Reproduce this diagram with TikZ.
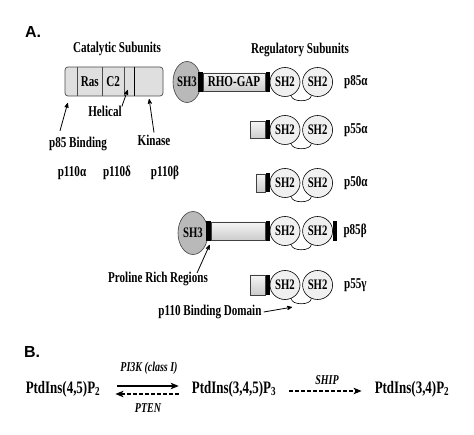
\documentclass[tikz,border=0pt]{standalone}
\usepackage{fontspec}
\setmainfont{Liberation Serif}[FakeStretch=0.74]
\newfontfamily\panelfont{Liberation Sans}
\usepackage{tikz}
\usetikzlibrary{arrows,arrows.meta,positioning,shapes.geometric}

\begin{document}
\begin{tikzpicture}[x=1pt,y=-1pt,>=stealth',
    lbl/.style={font=\bfseries\fontsize{15}{16}\selectfont,inner sep=1pt},
    enz/.style={font=\bfseries\itshape\fontsize{13.5}{14}\selectfont,inner sep=1pt},
    lipid/.style={font=\bfseries\fontsize{17.5}{18}\selectfont,inner sep=1pt},
    panel/.style={font=\panelfont\bfseries\fontsize{16}{17}\selectfont,inner sep=0pt},
    catalytic/.style={draw=gray!60!black,fill=gray!25,rounded corners=3pt,line width=0.7pt,
      minimum width=98pt,minimum height=29pt,inner sep=0pt},
    seg/.style={font=\bfseries\fontsize{15}{16}\selectfont,minimum height=29pt,inner sep=0pt},
    shtwo/.style={ellipse,draw=black,fill=gray!12,line width=0.6pt,minimum width=30pt,
      minimum height=29pt,inner sep=0pt,font=\bfseries\fontsize{14.5}{15}\selectfont},
    shthree/.style={ellipse,draw=gray!50!black,fill=gray!55,line width=0.6pt,inner sep=0pt,
      font=\bfseries\fontsize{14.5}{15}\selectfont},
    linker/.style={rectangle,draw=gray!50!black,top color=gray!8,bottom color=gray!40,
      line width=0.5pt,inner sep=0pt,font=\bfseries\fontsize{15}{16}\selectfont},
    blackbar/.style={rectangle,fill=black,minimum width=4.5pt,minimum height=20pt,inner sep=0pt},
    loop/.style={line width=0.6pt},
    pointer/.style={->,line width=0.8pt,shorten >=1pt},
    react/.style={-{Stealth[length=8pt,width=6.5pt,inset=2pt]},line width=1.1pt},
    back/.style={-{Stealth[length=8pt,width=6.5pt,inset=2pt]},line width=1.1pt,
      dash pattern=on 3.5pt off 2.5pt}]

    \useasboundingbox[fill=white] (0,0) rectangle (474,435);

    % panel A, catalytic subunits
    \node[panel] (pa) at (33,32) {A.};
    \node[lbl] (cathead) at (117,49) {Catalytic Subunits};
    \node[catalytic] (cat) at (114,81.5) {};
    \node[seg,minimum width=12pt,anchor=west] (pbd) at (cat.west) {};
    \node[seg,minimum width=25pt,right=0pt of pbd] (ras) {Ras};
    \node[seg,minimum width=21pt,right=0pt of ras] (ctwo) {C2};
    \node[seg,minimum width=10pt,right=0pt of ctwo] (hel) {};
    \node[seg,minimum width=30pt,right=0pt of hel] (kin) {};
    \draw[gray!60!black,line width=0.7pt] (pbd.north east) -- (pbd.south east);
    \draw[gray!60!black,line width=0.7pt] (ras.north east) -- (ras.south east);
    \draw[gray!60!black,line width=0.7pt] (ctwo.north east) -- (ctwo.south east);
    \draw[black,line width=0.8pt] (hel.north east) -- (hel.south east);

    \node[lbl] (hellbl) at (105,111) {Helical};
    \node[lbl] (pbdlbl) at (78,144) {p85 Binding};
    \node[lbl] (kinlbl) at (154,140) {Kinase};
    \coordinate (helhead) at (128,89);
    \coordinate (pbdhead) at (68,102);
    \coordinate (kinhead) at (149,98);
    \draw[pointer] ([xshift=-1pt,yshift=-2pt]hellbl.north east) -- (helhead);
    \draw[pointer] ([xshift=12pt,yshift=5pt]pbdlbl.north west) -- (pbdhead);
    \draw[pointer] ([yshift=1pt]kinlbl.north) -- (kinhead);

    \node[lbl] (pa1) at (72,173) {p110α};
    \node[lbl] (pd1) at (117,173) {p110δ};
    \node[lbl] (pb1) at (165,173) {p110β};

    % panel A, regulatory subunits
    \node[lbl] (reghead) at (300,50) {Regulatory Subunits};

    % p85 alpha
    \node[shthree,minimum width=28pt,minimum height=41pt] (sha) at (187,82) {SH3};
    \node[shtwo] (a1) at (285,82) {SH2};
    \node[shtwo,right=2pt of a1] (b1) {SH2};
    \node[blackbar,left=-0.5pt of a1] (k1) {};
    \node[linker,minimum width=62pt,minimum height=18pt,left=0pt of k1] (gap) {RHO-GAP};
    \node[blackbar,left=0pt of gap] (j1) {};
    \node[lbl,right=10pt of b1] (r1) {p85α};
    \draw[loop] (a1.-65) to[out=-90,in=-90,looseness=0.9] (b1.-115);

    % p55 alpha
    \node[shtwo] (a2) at (285,130) {SH2};
    \node[shtwo,right=2pt of a2] (b2) {SH2};
    \node[blackbar,minimum height=19pt,left=-0.5pt of a2] (k2) {};
    \node[linker,minimum width=15pt,minimum height=17pt,left=0pt of k2] (n2) {};
    \node[lbl,right=10pt of b2] (r2) {p55α};
    \draw[loop] (a2.-65) to[out=-90,in=-90,looseness=0.9] (b2.-115);

    % p50 alpha
    \node[shtwo] (a3) at (285,183) {SH2};
    \node[shtwo,right=2pt of a3] (b3) {SH2};
    \node[blackbar,minimum height=19pt,left=-0.5pt of a3] (k3) {};
    \node[linker,minimum width=9pt,minimum height=18pt,left=0pt of k3] (n3) {};
    \node[lbl,right=10pt of b3] (r3) {p50α};
    \draw[loop] (a3.-65) to[out=-90,in=-90,looseness=0.9] (b3.-115);

    % p85 beta
    \node[shthree,minimum width=30pt,minimum height=43pt] (shb) at (193,233) {SH3};
    \node[shtwo] (a4) at (285,231) {SH2};
    \node[shtwo,right=2pt of a4] (b4) {SH2};
    \node[blackbar,left=-0.5pt of a4] (k4) {};
    \node[linker,minimum width=54pt,minimum height=18pt,left=0pt of k4] (n4) {};
    \node[blackbar,left=0pt of n4] (j4) {};
    \node[blackbar,minimum width=4pt,right=0pt of b4] (e4) {};
    \node[lbl,right=5pt of e4] (r4) {p85β};
    \draw[loop] (a4.-65) to[out=-90,in=-90,looseness=0.9] (b4.-115);

    % p55 gamma
    \node[shtwo] (a5) at (285,285) {SH2};
    \node[shtwo,right=2pt of a5] (b5) {SH2};
    \node[blackbar,left=-0.5pt of a5] (k5) {};
    \node[linker,minimum width=15pt,minimum height=20pt,left=0pt of k5] (n5) {};
    \node[lbl,right=10pt of b5] (r5) {p55γ};
    \draw[loop] (a5.-65) to[out=-90,in=-90,looseness=0.9] (b5.-115);

    \node[lbl] (prr) at (158,279) {Proline Rich Regions};
    \coordinate (prrhead) at (210,244);
    \draw[pointer] ([xshift=-12pt,yshift=-2pt]prr.north east) -- (prrhead);
    \node[lbl] (bind) at (210,312) {p110 Binding Domain};
    \coordinate (bindhead) at (293,307);
    \draw[pointer] ([xshift=1pt]bind.east) -- (bindhead);

    % panel B
    \node[panel] (pb) at (32,352) {B.};
    \node[lipid] (pip2) at (63,389) {PtdIns(4,5)P\textsubscript{2}};
    \node[lipid] (pip3) at (234,389) {PtdIns(3,4,5)P\textsubscript{3}};
    \node[lipid] (pip34) at (412,389) {PtdIns(3,4)P\textsubscript{2}};
    \draw[react] ([xshift=16pt,yshift=3pt]pip2.east) -- ([xshift=-12pt,yshift=3pt]pip3.west);
    \draw[back] ([xshift=-12pt,yshift=-5pt]pip3.west) -- ([xshift=14pt,yshift=-5pt]pip2.east);
    \draw[back] ([xshift=12pt,yshift=-2pt]pip3.east) -- ([xshift=-12pt,yshift=-2pt]pip34.west);
    \node[enz] (pik) at (149,368) {PI3K (class I)};
    \node[enz] (pten) at (148,408) {PTEN};
    \node[enz] (ship) at (327,380) {SHIP};
\end{tikzpicture}
\end{document}
